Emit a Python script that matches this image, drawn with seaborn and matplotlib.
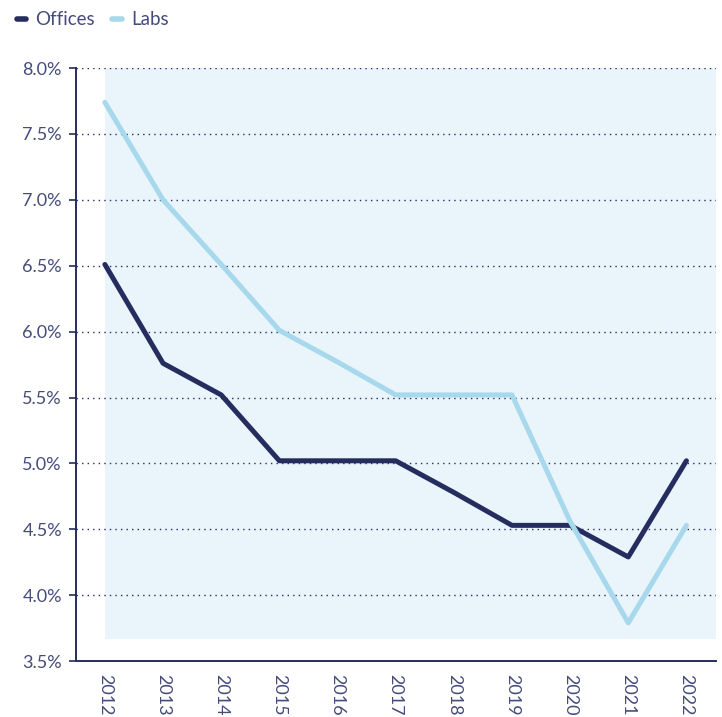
import pandas as pd
import matplotlib
matplotlib.use("Agg")
import matplotlib.pyplot as plt
from matplotlib.lines import Line2D
from matplotlib.ticker import FuncFormatter, MultipleLocator
import seaborn as sns

# dane
years = [2012, 2013, 2014, 2015, 2016, 2017, 2018, 2019, 2020, 2021, 2022]
offices = [6.51, 5.76, 5.52, 5.02, 5.02, 5.02, 4.78, 4.53, 4.53, 4.29, 5.02]
labs = [7.74, 7.00, 6.51, 6.01, 5.77, 5.52, 5.52, 5.52, 4.56, 3.79, 4.53]
series = ["Offices", "Labs"]
colors = {"Offices": "#252d5e", "Labs": "#a8d8ec"}
text_col = "#454b7a"
shade_col = "#e9f5fb"

df = pd.DataFrame({
    "Year": years * 2,
    "Rate": offices + labs,
    "Series": ["Offices"] * len(years) + ["Labs"] * len(years),
})

sns.set_style("white")
plt.rcParams["font.family"] = ["Lato", "DejaVu Sans"]

fig = plt.figure(figsize=(7.22, 7.17), dpi=100)
ax = fig.add_axes([0.105, 0.078, 0.886, 0.827])

# tlo
ax.fill_between([years[0], years[-1] + 0.5], 3.67, 8.0, color=shade_col, lw=0, zorder=0)

sns.lineplot(data=df, x="Year", y="Rate", hue="Series", hue_order=series,
             palette=colors, linewidth=3.6, ax=ax, legend=False, zorder=3,
             solid_capstyle="round")

ax.set_xlim(years[0] - 0.5, years[-1] + 0.5)
ax.set_ylim(3.5, 8.0)
ax.yaxis.set_major_locator(MultipleLocator(0.5))
ax.yaxis.set_major_formatter(FuncFormatter(lambda v, p: f"{v:.1f}%"))
ax.grid(axis="y", color=colors["Offices"], linestyle=(0, (1, 3)), linewidth=1.0, zorder=1)
ax.set_axisbelow(True)

ax.set_xticks(years)
ax.set_xticklabels([str(y) for y in years], rotation=-90)
ax.set_xticks([y - 0.5 for y in years] + [years[-1] + 0.5], minor=True)
ax.tick_params(axis="x", which="major", length=0, pad=9, labelsize=13, labelcolor=text_col)
ax.tick_params(axis="x", which="minor", length=6, width=1.2, color=colors["Offices"], direction="out")
ax.tick_params(axis="y", length=5, width=1.2, color=colors["Offices"], direction="out",
               labelsize=13, labelcolor=text_col, pad=5, left=True)
ax.set_xlabel("")
ax.set_ylabel("")

for s in ["top", "right"]:
    ax.spines[s].set_visible(False)
for s in ["left", "bottom"]:
    ax.spines[s].set_color(colors["Offices"])
    ax.spines[s].set_linewidth(1.4)

handles = [Line2D([0], [0], color=colors[s], lw=4, solid_capstyle="round") for s in series]
leg = fig.legend(handles, series, loc="upper left", bbox_to_anchor=(0.0, 1.008),
                 ncol=2, frameon=False, fontsize=13.5, handlelength=0.5,
                 handletextpad=0.5, columnspacing=0.9)
for t in leg.get_texts():
    t.set_color(text_col)

fig.savefig("out.png", dpi=100)
